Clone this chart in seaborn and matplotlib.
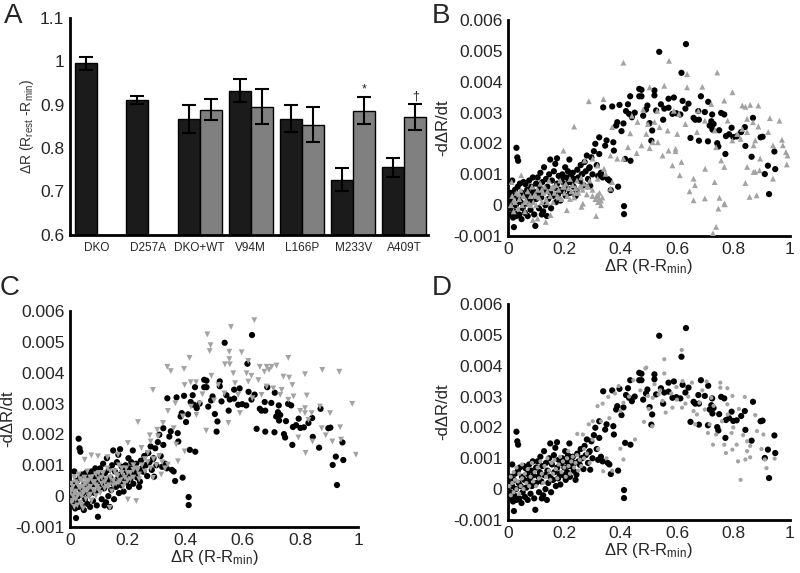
import numpy as np
import pandas as pd
import matplotlib
matplotlib.use("Agg")
import matplotlib.pyplot as plt
from matplotlib.ticker import FuncFormatter, MultipleLocator
import seaborn as sns

# ── Panel A: bar data ─────────────────────────────────────────────────────────
categories = ["DKO", "D257A", "DKO+WT", "V94M", "L166P", "M233V", "A409T"]
black_vals = [0.995, 0.910, 0.867, 0.932, 0.868, 0.727, 0.756]
black_errs = [0.015, 0.009, 0.032, 0.026, 0.031, 0.027, 0.022]
gray_vals = [np.nan, np.nan, 0.888, 0.895, 0.854, 0.886, 0.872]
gray_errs = [np.nan, np.nan, 0.024, 0.040, 0.040, 0.031, 0.030]
bar_marks = ["", "", "", "", "", "*", "\u2020"]

# ── Panels B-D: scatter data (x = ΔR, y = -dΔR/dt in units of 0.001) ─────────
black_pts = [
    (0.005, 0.2), (0.008, -0.1), (0.01, 0.4), (0.012, -0.3), (0.015, 0.8), (0.015, 0.1),
    (0.018, -0.4), (0.02, 0.3), (0.022, -0.2), (0.021, -0.71), (0.025, 0.5), (0.028, 0.0),
    (0.03, -0.35), (0.03, 1.86), (0.033, 1.55), (0.036, 1.44), (0.035, 0.6), (0.038, 0.2),
    (0.04, -0.3), (0.042, 0.7), (0.045, 0.1), (0.048, -0.45), (0.05, 0.4), (0.052, -0.1),
    (0.055, 0.75), (0.058, 0.3), (0.06, -0.25), (0.062, 0.68), (0.065, 0.05), (0.068, 0.5),
    (0.07, -0.35), (0.072, 0.2), (0.075, 0.8), (0.078, 0.35), (0.08, -0.15), (0.083, 0.6),
    (0.085, 0.1), (0.088, 0.9), (0.09, 0.45), (0.093, -0.3), (0.097, -0.67), (0.1, 0.2),
    (0.1, 0.7), (0.105, 0.9), (0.108, 0.4), (0.11, -0.1), (0.113, 0.55), (0.115, 1.05),
    (0.118, 0.25), (0.12, -0.3), (0.122, 0.75), (0.125, -0.2), (0.128, 1.23), (0.13, 0.45),
    (0.133, 0.0), (0.135, 0.85), (0.138, -0.35), (0.14, 0.6), (0.143, 0.2), (0.146, 1.0),
    (0.15, 1.48), (0.15, 0.4), (0.153, -0.1), (0.156, 0.8), (0.16, 0.3), (0.163, 1.1),
    (0.165, 0.55), (0.168, 1.34), (0.17, 0.1), (0.174, 1.52), (0.175, 0.7), (0.178, 0.35),
    (0.18, 0.95), (0.183, 0.5), (0.186, 0.15), (0.19, 0.85), (0.193, 1.0), (0.196, 0.45),
    (0.2, 0.7), (0.203, 1.23), (0.205, 0.3), (0.208, 0.9), (0.21, 0.55), (0.213, 1.1),
    (0.216, 0.75), (0.218, 1.48), (0.22, 0.4), (0.223, 0.95), (0.226, 0.74), (0.23, 1.05),
    (0.233, 0.6), (0.236, 0.85), (0.24, 0.3), (0.243, 0.47), (0.246, 1.15), (0.25, 0.9),
    (0.255, 0.79), (0.258, 1.3), (0.262, 1.0), (0.264, 1.01), (0.268, 0.65), (0.272, 1.4),
    (0.276, 1.1), (0.28, 1.61), (0.284, 0.85), (0.288, 1.2), (0.29, 1.23), (0.292, 0.63),
    (0.296, 1.55), (0.3, 1.0), (0.305, 1.75), (0.31, 1.99), (0.315, 1.3), (0.32, 0.95),
    (0.324, 2.2), (0.324, 1.66), (0.33, 1.05), (0.336, 0.9), (0.338, 3.17), (0.345, 1.93),
    (0.35, 2.1), (0.354, 0.85), (0.36, 0.8), (0.365, 0.49), (0.37, 3.2), (0.374, 2.04),
    (0.376, 1.77), (0.384, 2.58), (0.388, 2.69), (0.391, 0.6), (0.396, 3.25), (0.403, 2.40),
    (0.41, 2.65), (0.412, -0.03), (0.412, -0.29), (0.416, 1.5), (0.419, 3.05), (0.426, 3.27),
    (0.43, 2.96), (0.435, 1.44), (0.434, 3.53), (0.44, 2.85), (0.45, 3.0), (0.466, 3.77),
    (0.466, 3.53), (0.474, 3.74), (0.474, 3.53), (0.48, 2.9), (0.49, 3.1), (0.495, 3.23),
    (0.503, 2.66), (0.509, 2.09), (0.512, 2.42), (0.52, 3.72), (0.52, 3.56), (0.526, 3.07),
    (0.537, 4.97), (0.543, 3.27), (0.551, 2.77), (0.555, 3.13), (0.57, 3.45), (0.57, 3.16),
    (0.584, 2.96), (0.589, 3.49), (0.598, 2.98), (0.612, 2.94), (0.616, 4.29), (0.62, 3.38),
    (0.63, 3.13), (0.632, 5.22), (0.641, 3.29), (0.648, 2.18), (0.659, 2.83), (0.665, 2.77),
    (0.676, 3.05), (0.678, 2.77), (0.678, 2.09), (0.685, 3.53), (0.699, 3.02), (0.711, 3.35),
    (0.71, 2.07), (0.716, 2.58), (0.722, 2.72), (0.725, 2.94), (0.73, 2.63), (0.726, 2.45),
    (0.743, 2.01), (0.747, 1.90), (0.757, 2.99), (0.768, 2.94), (0.75, 2.43), (0.772, 1.66),
    (0.774, 2.24), (0.785, 2.30), (0.794, 2.51), (0.80, 2.21), (0.812, 2.23), (0.828, 2.37),
    (0.843, 1.92), (0.841, 2.53), (0.865, 1.57), (0.87, 2.83), (0.897, 2.2), (0.904, 2.22),
    (0.912, 1.01), (0.923, 1.28), (0.927, 0.36), (0.946, 1.74), (0.949, 1.17),
]

gray_b_pts = [
    (0.01, 0.0), (0.015, 0.3), (0.02, -0.2), (0.025, 0.1), (0.03, 0.4), (0.035, -0.1),
    (0.04, 0.2), (0.045, 0.5), (0.05, 0.0), (0.055, 0.3), (0.06, -0.2), (0.065, 0.15),
    (0.07, 0.45), (0.075, 0.05), (0.08, 0.3), (0.085, 0.6), (0.09, 0.1), (0.095, 0.35),
    (0.1, 0.0), (0.105, 0.5), (0.11, 0.25), (0.115, 0.7), (0.12, 0.1), (0.125, 0.4),
    (0.13, 0.6), (0.135, 0.2), (0.14, 0.45), (0.145, 0.8), (0.15, 0.3), (0.155, 0.55),
    (0.16, 0.1), (0.165, 0.4), (0.17, 0.65), (0.175, 0.3), (0.18, 0.5), (0.185, 0.8),
    (0.19, 0.2), (0.195, 0.6), (0.2, 0.4), (0.205, 0.7), (0.21, 0.3), (0.215, 0.55),
    (0.22, 0.85), (0.225, 0.45), (0.23, 0.65), (0.235, 0.25), (0.24, 0.55), (0.245, 0.8),
    (0.25, 0.4), (0.255, 0.6), (0.26, 0.9), (0.265, 0.5), (0.27, 0.7), (0.28, 0.35),
    (0.285, 0.6), (0.29, 0.8), (0.3, 0.5), (0.31, 0.2), (0.315, 0.3), (0.32, 0.1),
    (0.325, 0.4), (0.33, 0.15), (0.335, 0.25), (0.02, 0.15), (0.04, 0.35), (0.06, 0.1),
    (0.08, 0.0), (0.1, 0.3), (0.12, 0.5), (0.14, 0.1), (0.16, 0.6), (0.18, 0.25),
    (0.2, 0.6), (0.22, 0.2), (0.24, 0.4), (0.26, 0.6), (0.28, 0.6), (0.3, 0.3),
    (0.41, 4.62), (0.572, 4.68), (0.636, 4.25), (0.743, 4.30), (0.503, 3.82), (0.555, 3.87),
    (0.636, 3.82), (0.69, 3.84), (0.797, 3.66), (0.832, 3.23), (0.843, 3.19), (0.86, 3.25),
    (0.889, 3.23), (0.93, 2.82), (0.964, 2.74), (0.973, 2.12), (0.993, 1.61), (0.99, 1.32),
    (0.941, 1.94), (0.924, 2.37), (0.889, 2.55), (0.878, 2.10), (0.872, 1.94), (0.849, 1.24),
    (0.878, 1.08), (0.893, 1.13), (0.843, 0.72), (0.858, 0.27), (0.883, 0.32), (0.941, 0.86),
    (0.768, 1.24), (0.734, 0.75), (0.751, 0.24), (0.77, 0.03), (0.747, -0.11), (0.739, -0.70),
    (0.728, -0.91), (0.70, 1.18), (0.659, 0.86), (0.645, 0.45), (0.659, 0.16), (0.61, 0.97),
    (0.616, 1.40), (0.595, 1.75), (0.57, 1.77), (0.503, 1.85), (0.532, 2.04), (0.538, 2.53),
    (0.567, 2.42), (0.601, 2.31), (0.63, 2.63), (0.671, 2.37), (0.699, 2.74), (0.734, 2.42),
    (0.739, 1.88), (0.757, 1.45), (0.78, 2.74), (0.797, 2.10), (0.814, 2.31), (0.832, 2.47),
    (0.849, 2.80), (0.87, 2.69), (0.722, 3.28), (0.768, 3.39), (0.676, 3.06), (0.607, 2.96),
    (0.589, 3.06), (0.53, 3.06), (0.497, 2.63), (0.491, 2.31), (0.287, 3.37), (0.339, 3.44),
    (0.235, 2.55), (0.197, 1.77), (0.37, 2.53), (0.434, 2.33), (0.474, 1.94), (0.457, 1.69),
    (0.426, 1.88), (0.388, 1.51), (0.301, 1.51), (0.272, 1.45), (0.318, 1.29), (0.347, 1.02),
    (0.37, 0.75), (0.324, 0.22), (0.33, 0.0), (0.266, 0.05), (0.261, -0.05), (0.313, -0.35),
    (0.209, -0.16), (0.151, -0.32), (0.134, -0.54), (0.105, -0.43), (0.088, -0.48),
    (0.047, 0.97), (0.013, 0.75), (0.41, 1.51), (0.364, 1.61), (0.341, 1.18), (0.318, 0.86),
    (0.364, 0.54), (0.318, 0.32), (0.549, 1.61), (0.514, 2.04), (0.595, 1.83), (0.584, 1.29),
    (0.826, 2.15), (0.849, 2.37), (0.895, 1.51), (0.872, 1.08), (0.987, 1.72), (0.976, 1.94),
    (0.664, 0.65), (0.699, 0.22), (0.768, 0.05), (0.44, 2.9), (0.46, 2.7), (0.52, 2.7),
    (0.48, 3.1),
]

gray_c_pts = [
    (0.0, 0.1), (0.005, -0.2), (0.005, 0.4), (0.01, 0.0), (0.01, 0.3), (0.015, -0.35),
    (0.015, 0.6), (0.02, 0.15), (0.02, -0.1), (0.025, 0.4), (0.025, -0.3), (0.03, 0.05),
    (0.03, 0.7), (0.035, 0.25), (0.035, -0.2), (0.04, 0.5), (0.04, 0.0), (0.045, 0.3),
    (0.045, -0.4), (0.05, 0.15), (0.05, 0.6), (0.055, -0.1), (0.055, 0.4), (0.06, 0.2),
    (0.06, 0.8), (0.065, 0.0), (0.065, 0.5), (0.07, 0.3), (0.075, -0.15), (0.075, 0.6),
    (0.08, 0.2), (0.085, 0.45), (0.09, 0.0), (0.09, 0.7), (0.095, 0.3), (0.1, 0.55),
    (0.105, 0.1), (0.11, 0.4), (0.115, 0.75), (0.12, 0.25), (0.125, 0.55), (0.13, 0.9),
    (0.135, 0.35), (0.14, 0.6), (0.145, 0.15), (0.15, 0.5), (0.155, 0.8), (0.16, 0.4),
    (0.165, 0.65), (0.17, 1.0), (0.175, 0.5), (0.18, 0.75), (0.185, 0.3), (0.19, 0.6),
    (0.195, 0.9), (0.2, 0.5), (0.21, 0.75), (0.22, 0.6), (0.23, 0.9), (0.24, 0.7),
    (0.25, 1.0), (0.26, 0.8), (0.27, 1.1), (0.28, 0.9), (0.29, 1.2), (0.3, 1.0),
    (0.31, 1.3), (0.32, 1.1), (0.33, 0.9), (0.005, 0.2), (0.01, -0.15), (0.015, 0.1),
    (0.02, 0.45), (0.025, 0.0), (0.03, 0.3), (0.035, 0.55), (0.04, -0.3), (0.045, 0.1),
    (0.05, 0.4), (0.055, 0.2), (0.06, 0.5), (0.065, 0.25), (0.07, 0.05), (0.07, 0.6),
    (0.08, 0.45), (0.085, 0.15), (0.09, 0.35), (0.1, 0.2), (0.1, 0.75), (0.11, 0.6),
    (0.12, 0.45), (0.13, 0.3), (0.14, 0.8), (0.15, 0.35), (0.16, 0.7), (0.17, 0.45),
    (0.18, 0.9), (0.19, 0.4), (0.2, 0.75), (0.21, 0.55), (0.22, 0.85), (0.24, 0.55),
    (0.64, 5.70), (0.559, 5.48), (0.553, 4.68), (0.553, 4.44), (0.596, 4.66), (0.538, 4.27),
    (0.555, 4.27), (0.619, 4.38), (0.613, 3.98), (0.63, 3.90), (0.567, 3.98), (0.659, 4.19),
    (0.683, 4.19), (0.70, 4.19), (0.717, 4.23), (0.675, 4.03), (0.691, 4.09), (0.758, 4.48),
    (0.816, 3.95), (0.876, 4.09), (0.935, 4.03), (0.98, 2.99), (0.993, 1.34), (0.741, 3.87),
    (0.761, 3.84), (0.772, 3.60), (0.654, 3.76), (0.683, 3.55), (0.706, 3.49), (0.735, 3.44),
    (0.776, 3.23), (0.758, 3.12), (0.73, 3.28), (0.822, 3.26), (0.816, 2.85), (0.816, 2.69),
    (0.799, 2.76), (0.839, 2.69), (0.828, 2.47), (0.868, 2.90), (0.903, 2.69), (0.874, 2.20),
    (0.888, 1.97), (0.911, 1.77), (0.938, 2.23), (0.941, 1.83), (0.818, 1.40), (0.842, 1.77),
    (0.793, 1.90), (0.573, 3.66), (0.584, 3.28), (0.59, 2.69), (0.55, 2.37), (0.619, 3.71),
    (0.515, 3.60), (0.536, 3.33), (0.633, 3.17), (0.665, 3.28), (0.477, 5.24), (0.488, 4.89),
    (0.485, 4.70), (0.415, 4.48), (0.338, 4.19), (0.35, 4.05), (0.396, 4.12), (0.288, 3.44),
    (0.236, 2.40), (0.491, 3.90), (0.398, 3.60), (0.419, 3.69), (0.438, 3.69), (0.366, 3.01),
    (0.34, 2.76), (0.323, 2.37), (0.392, 2.58), (0.439, 2.63), (0.473, 2.12), (0.303, 2.15),
    (0.306, 1.94), (0.277, 1.97), (0.28, 1.77), (0.248, 1.56), (0.201, 1.72), (0.167, 1.34),
    (0.13, 1.26), (0.074, 1.32), (0.097, 1.29), (0.051, 1.18), (0.369, 1.67), (0.398, 1.45),
    (0.375, 1.13), (0.34, 1.02), (0.317, 0.70), (0.288, 0.59), (0.201, -0.11), (0.23, -0.16),
    (0.138, -0.38), (0.46, 3.3), (0.5, 3.1), (0.45, 3.0), (0.42, 2.9), (0.36, 2.2),
    (0.26, 1.2), (0.27, 1.4), (0.22, 1.0), (0.235, 0.85),
]

gray_d_pts = [
    (0.005, 0.1), (0.01, -0.2), (0.01, 0.4), (0.015, 0.2), (0.02, -0.1), (0.02, 0.55),
    (0.025, 0.3), (0.03, 0.0), (0.03, 0.7), (0.035, 0.25), (0.04, -0.15), (0.04, 0.5),
    (0.045, 0.1), (0.05, 0.35), (0.05, 0.8), (0.055, 0.0), (0.06, 0.5), (0.065, 0.2),
    (0.07, 0.65), (0.075, 0.1), (0.08, 0.4), (0.085, 0.85), (0.09, 0.25), (0.095, 0.55),
    (0.1, 0.1), (0.105, 0.7), (0.11, 0.35), (0.115, 0.9), (0.12, 0.5), (0.125, 0.2),
    (0.13, 0.75), (0.135, 0.4), (0.14, 1.0), (0.145, 0.6), (0.15, 0.3), (0.155, 0.85),
    (0.16, 0.5), (0.165, 0.95), (0.17, 0.65), (0.175, 0.35), (0.18, 0.8), (0.185, 1.05),
    (0.19, 0.55), (0.195, 0.9), (0.2, 0.7), (0.205, 0.4), (0.21, 1.0), (0.215, 0.75),
    (0.22, 0.5), (0.225, 0.9), (0.23, 1.05), (0.235, 0.7), (0.24, 0.85), (0.245, 1.1),
    (0.25, 0.6), (0.255, 0.95), (0.26, 0.75), (0.27, 1.0), (0.28, 1.15), (0.29, 0.85),
    (0.617, 4.51), (0.555, 4.21), (0.491, 3.94), (0.555, 3.75), (0.497, 3.02), (0.514, 2.96),
    (0.535, 3.07), (0.549, 2.86), (0.56, 2.48), (0.584, 2.64), (0.598, 3.31), (0.618, 2.64),
    (0.63, 2.77), (0.653, 3.45), (0.659, 2.53), (0.671, 2.42), (0.705, 3.49), (0.722, 2.96),
    (0.754, 3.45), (0.754, 3.29), (0.779, 3.27), (0.797, 3.02), (0.779, 2.75), (0.716, 2.10),
    (0.71, 1.82), (0.728, 1.44), (0.739, 1.77), (0.768, 1.44), (0.774, 1.17), (0.794, 1.82),
    (0.797, 1.28), (0.812, 1.44), (0.826, 0.30), (0.817, 0.90), (0.835, 1.75), (0.841, 2.99),
    (0.843, 0.96), (0.849, 1.23), (0.86, 1.03), (0.878, 2.40), (0.884, 1.88), (0.907, 1.77),
    (0.912, 0.96), (0.918, 0.68), (0.947, 0.99), (0.849, 1.55), (0.78, 2.42), (0.699, 2.58),
    (0.665, 2.10), (0.512, 2.04), (0.488, 3.91), (0.445, 3.53), (0.393, 3.34), (0.356, 2.99),
    (0.336, 2.77), (0.318, 2.69), (0.301, 2.20), (0.287, 2.10), (0.266, 1.77), (0.246, 1.79),
    (0.399, 2.53), (0.483, 2.18), (0.451, 1.61), (0.399, 1.31), (0.41, 0.96), (0.37, 0.60),
    (0.338, 0.58), (0.214, 1.23), (0.47, 3.2), (0.43, 3.0), (0.41, 2.8), (0.38, 3.1),
    (0.52, 3.4), (0.58, 3.1), (0.64, 3.0), (0.68, 2.8), (0.73, 2.7), (0.76, 2.2),
    (0.8, 2.0), (0.69, 3.2), (0.62, 3.5), (0.36, 2.3), (0.33, 2.2), (0.3, 1.6),
    (0.32, 1.3), (0.35, 1.0), (0.27, 1.3), (0.5, 2.6), (0.6, 2.9), (0.54, 3.2),
    (0.86, 1.4), (0.82, 2.6), (0.9, 1.3),
]

BAR_BLACK = "#1b1b1b"
BAR_GRAY = "#808080"
PT_GRAY = "#a3a3a3"


def style_axes(ax):
    for side in ["top", "right"]:
        ax.spines[side].set_visible(False)
    for side in ["left", "bottom"]:
        ax.spines[side].set_linewidth(2.0)
        ax.spines[side].set_color("black")
    ax.tick_params(direction="out", length=3, width=1.5, color="black", pad=1)


def scatter_panel(ax, gray_pts, marker, gray_size, ylabel_pad=2):
    bx, by = zip(*black_pts)
    gx, gy = zip(*gray_pts)
    sns.scatterplot(x=list(bx), y=list(by), marker="o", s=20, color="black",
                    edgecolor="none", linewidth=0, ax=ax, zorder=2)
    sns.scatterplot(x=list(gx), y=list(gy), marker=marker, s=gray_size, color=PT_GRAY,
                    edgecolor="none", linewidth=0, ax=ax, zorder=3)
    ax.set_xlim(0, 1)
    ax.set_ylim(-1, 6)
    ax.xaxis.set_major_locator(MultipleLocator(0.2))
    ax.yaxis.set_major_locator(MultipleLocator(1))
    ax.xaxis.set_major_formatter(FuncFormatter(lambda v, p: f"{v:g}"))
    ax.yaxis.set_major_formatter(FuncFormatter(lambda v, p: f"{v / 1000:g}"))
    ax.tick_params(labelsize=12.5)
    ax.set_xlabel("\u0394R (R-R$_{min}$)", fontsize=12, labelpad=0)
    ax.set_ylabel("-d\u0394R/dt", fontsize=12, labelpad=ylabel_pad)
    style_axes(ax)


def main():
    sns.set_style("white")
    plt.rcParams["font.family"] = ["Liberation Sans", "DejaVu Sans"]
    plt.rcParams["mathtext.default"] = "regular"

    fig = plt.figure(figsize=(8, 5.73), dpi=100)

    # ── Panel A ───────────────────────────────────────────────────────────────
    ax_a = fig.add_axes([0.0875, 0.590, 0.4475, 0.379])
    df = pd.DataFrame({
        "cat": categories * 2,
        "grp": ["black"] * len(categories) + ["gray"] * len(categories),
        "val": black_vals + gray_vals,
        "err": black_errs + gray_errs,
    })
    sns.barplot(data=df, x="cat", y="val", hue="grp", order=categories,
                hue_order=["black", "gray"], palette=[BAR_BLACK, BAR_GRAY],
                width=0.86, edgecolor="black", linewidth=1.0, saturation=1,
                errorbar=None, legend=False, ax=ax_a)
    for cont, grp in zip(ax_a.containers, ["black", "gray"]):
        sub = df[(df["grp"] == grp) & df["val"].notna()]
        for bar, (_, row) in zip(cont, sub.iterrows()):
            xc = bar.get_x() + bar.get_width() / 2
            ax_a.errorbar(xc, row["val"], yerr=row["err"], fmt="none",
                          ecolor="black", elinewidth=1.5, capsize=5, capthick=1.5)
            if grp == "gray":
                mark = bar_marks[categories.index(row["cat"])]
                if mark:
                    ax_a.text(xc, row["val"] + row["err"] + 0.004, mark,
                              ha="center", va="bottom", fontsize=9)
    ax_a.set_ylim(0.6, 1.1)
    ax_a.set_xlim(-0.53, 6.46)
    ax_a.yaxis.set_major_locator(MultipleLocator(0.1))
    ax_a.yaxis.set_major_formatter(FuncFormatter(lambda v, p: f"{v:g}"))
    ax_a.set_xlabel("")
    ax_a.set_ylabel("\u0394R (R$_{rest}$ -R$_{min}$)", fontsize=10, color="#333333",
                    labelpad=3)
    style_axes(ax_a)
    ax_a.tick_params(axis="y", labelsize=12.5)
    ax_a.tick_params(axis="x", labelsize=8.5, length=0, pad=5)

    # ── Panels B, C, D ────────────────────────────────────────────────────────
    ax_b = fig.add_axes([0.635, 0.588, 0.352, 0.377])
    scatter_panel(ax_b, gray_b_pts, "^", 18)

    ax_c = fig.add_axes([0.0875, 0.0803, 0.36, 0.377])
    scatter_panel(ax_c, gray_c_pts, "v", 18, ylabel_pad=0)

    ax_d = fig.add_axes([0.635, 0.0925, 0.352, 0.377])
    scatter_panel(ax_d, gray_d_pts, "o", 9)

    # ── Panel letters ─────────────────────────────────────────────────────────
    for lx, ly, letter in [(0.005, 0.995, "A"), (0.540, 0.995, "B"),
                           (0.000, 0.520, "C"), (0.540, 0.520, "D")]:
        fig.text(lx, ly, letter, fontsize=20, va="top", ha="left")

    fig.savefig("out.png", dpi=100)


if __name__ == "__main__":
    main()
